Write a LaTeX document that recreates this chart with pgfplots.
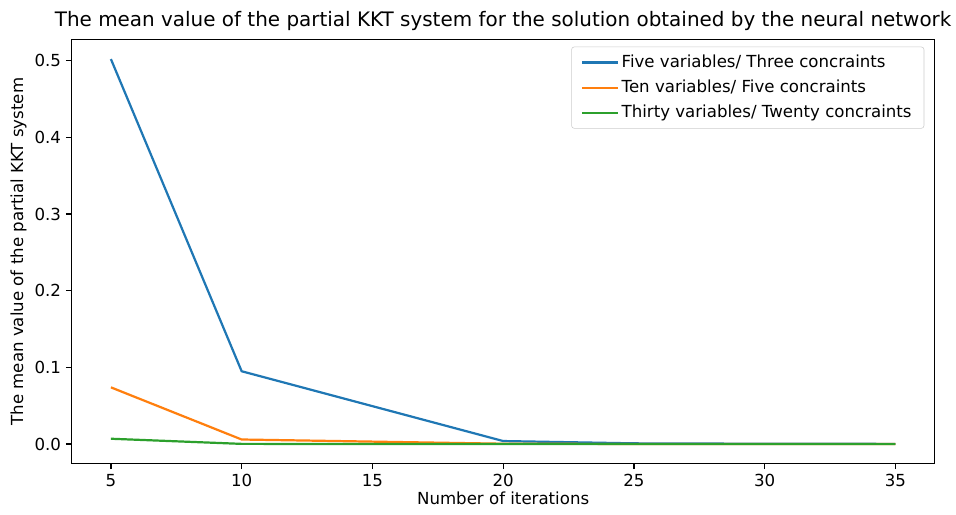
\documentclass[border=0pt]{standalone}
\usepackage{fontspec}
\setmainfont{DejaVu Sans}
\usepackage{pgfplots}
\pgfplotsset{compat=1.18}

\definecolor{mplblue}{HTML}{1F77B4}
\definecolor{mplorange}{HTML}{FF7F0E}
\definecolor{mplgreen}{HTML}{2CA02C}

\begin{document}
\begin{tikzpicture}
\begin{axis}[
    at={(0pt,0pt)}, anchor=south west,
    scale only axis,
    width=623.5pt,
    height=306pt,
    xmin=3.5, xmax=36.5,
    ymin=-0.0251, ymax=0.5271,
    xtick={5,10,15,20,25,30,35},
    ytick={0,0.1,0.2,0.3,0.4,0.5},
    /pgf/number format/assume math mode=true,
    yticklabel style={/pgf/number format/fixed,/pgf/number format/fixed zerofill,/pgf/number format/precision=1},
    tick align=outside,
    tick pos=left,
    major tick length=4.2pt,
    tick style={black, line width=0.9pt},
    axis line style={line width=0.9pt},
    ticklabel style={font=\fontsize{12}{14}\selectfont},
    title={The mean value of the partial KKT system for the solution obtained by the neural network},
    title style={font=\fontsize{14.4}{17}\selectfont, yshift=-3pt},
    xlabel={Number of iterations},
    ylabel={The mean value of the partial KKT system},
    label style={font=\fontsize{12}{14}\selectfont},
    xlabel style={yshift=3pt},
    ylabel style={yshift=-1pt},
    legend style={at={(0.988,0.984)}, anchor=north east, draw=black!20, rounded corners=2pt,
        font=\fontsize{12}{14}\selectfont, row sep=3.5pt, inner xsep=7pt, inner ysep=4pt},
    legend cell align=left,
    legend image code/.code={\draw[#1, line width=1.6pt] (0cm,0cm) -- (0.9cm,0cm);},
    every axis plot/.append style={line width=1.6pt},
]
\addplot[mplblue] coordinates {
    (5,0.502) (10,0.095) (20,0.004) (25,0.001) (30,0.0005) (35,0.0003)
};
\addlegendentry{Five variables/ Three concraints}
\addplot[mplorange] coordinates {
    (5,0.074) (10,0.006) (20,0.0005) (25,0.0002) (30,0.0001) (35,0.0001)
};
\addlegendentry{Ten variables/ Five concraints}
\addplot[mplgreen] coordinates {
    (5,0.007) (10,0.0003) (20,0.0001) (25,0.0) (30,0.0) (35,0.0)
};
\addlegendentry{Thirty variables/ Twenty concraints}
\end{axis}
\useasboundingbox (-51.8pt,-36.7pt) rectangle (636.5pt,334.8pt);
\end{tikzpicture}
\end{document}
